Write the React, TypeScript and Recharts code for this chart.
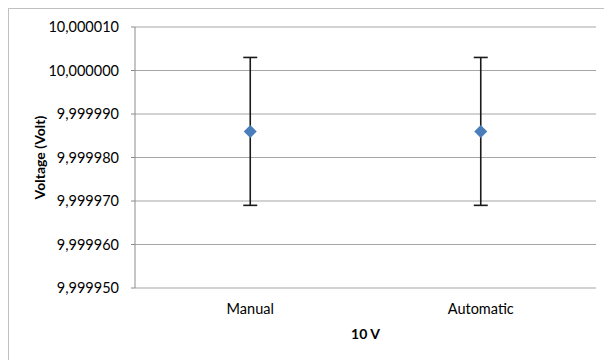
import { ComposedChart, Line, XAxis, YAxis, CartesianGrid, ErrorBar } from 'recharts';

const categories = ['Manual', 'Automatic'];
const voltages = [9.999986, 9.999986];
const errors = [0.000017, 0.000017];
const yTicks = [9.99995, 9.99996, 9.99997, 9.99998, 9.99999, 10.0, 10.00001];
const boundaryTicks = [0, 1, 2];

const data = categories.map((name, i) => ({
  name,
  pos: i + 0.5,
  voltage: voltages[i],
  err: errors[i],
}));

const FONT = 'Lato, "DejaVu Sans", sans-serif';
const AXIS_GRAY = '#8c8c8c';

const Diamond = (props: any) => {
  const { cx, cy } = props;
  if (cx == null || cy == null) return null;
  const r = 6.5;
  return (
    <polygon
      points={`${cx},${cy - r} ${cx + r},${cy} ${cx},${cy + r} ${cx - r},${cy}`}
      fill="#4a7ebb"
    />
  );
};

const YLabel = (props: any) => {
  const { x, y, height } = props.viewBox;
  const lx = x + 30;
  const ly = y + height / 2;
  return (
    <text
      x={lx}
      y={ly}
      transform={`rotate(-90, ${lx}, ${ly})`}
      textAnchor="middle"
      dominantBaseline="central"
      fontFamily={FONT}
      fontSize={14}
      fontWeight="bold"
      fill="#000"
    >
      Voltage (Volt)
    </text>
  );
};

export default function App() {
  return (
    <div
      style={{
        width: 604,
        height: 352,
        boxSizing: 'border-box',
        borderTop: '1px solid #c0c0c0',
        borderLeft: '1px solid #c0c0c0',
        background: '#fff',
      }}
    >
      <ComposedChart
        width={603}
        height={351}
        data={data}
        margin={{ top: 18, right: 16, bottom: 21, left: 0 }}
      >
        <CartesianGrid vertical={false} stroke="#a6a6a6" strokeWidth={1.2} />
        <XAxis
          xAxisId={0}
          type="number"
          dataKey="pos"
          domain={[0, 2]}
          ticks={boundaryTicks}
          tick={false}
          tickSize={4}
          tickLine={{ stroke: AXIS_GRAY }}
          axisLine={{ stroke: AXIS_GRAY }}
          height={0}
        />
        <XAxis
          xAxisId="lab"
          type="number"
          dataKey="pos"
          domain={[0, 2]}
          ticks={data.map((d) => d.pos)}
          tickFormatter={(v: number) => categories[Math.floor(v)]}
          tickLine={false}
          axisLine={false}
          tickMargin={10}
          height={51}
          tick={{ fill: '#000', fontFamily: FONT, fontSize: 14.5 }}
          label={{
            value: '10 V',
            position: 'insideBottom',
            offset: 0,
            fill: '#000',
            fontFamily: FONT,
            fontSize: 14,
            fontWeight: 'bold',
          }}
        />
        <YAxis
          type="number"
          domain={[9.99995, 10.00001]}
          ticks={yTicks}
          allowDataOverflow
          width={126}
          tickSize={4}
          tickMargin={12}
          tickLine={{ stroke: AXIS_GRAY }}
          axisLine={{ stroke: AXIS_GRAY }}
          tickFormatter={(v: number) => v.toFixed(6).replace('.', ',')}
          tick={{ fill: '#000', fontFamily: FONT, fontSize: 14.5 }}
          label={{ content: YLabel }}
        />
        <Line
          xAxisId="lab"
          dataKey="voltage"
          stroke="none"
          dot={<Diamond />}
          activeDot={false}
          isAnimationActive={false}
        >
          <ErrorBar dataKey="err" direction="y" width={7} stroke="#1a1a1a" strokeWidth={1.6} />
        </Line>
      </ComposedChart>
    </div>
  );
}
